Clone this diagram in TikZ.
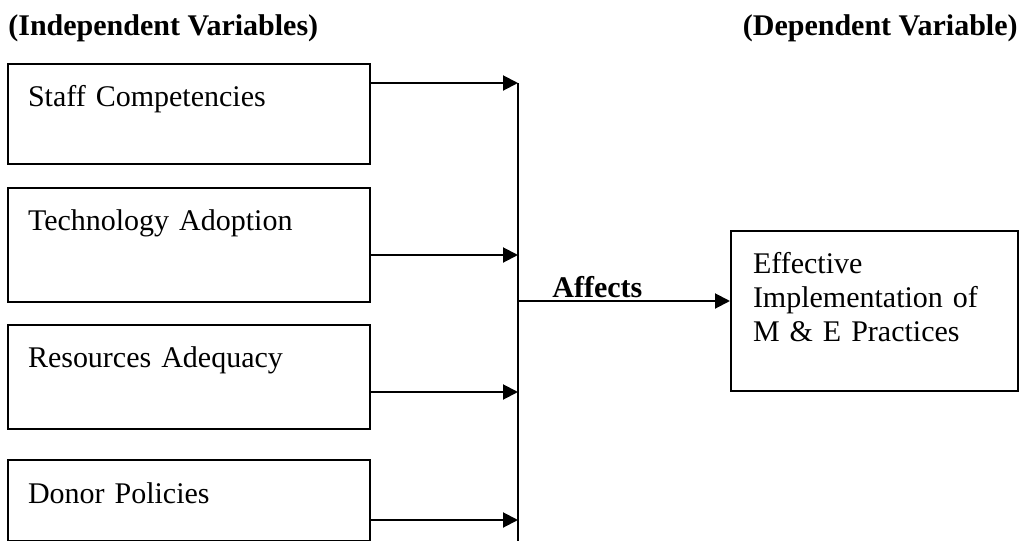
\documentclass[tikz,border=0pt]{standalone}
\usepackage{fontspec}
\setmainfont{Liberation Serif}
\usetikzlibrary{arrows.meta}
\begin{document}
\begin{tikzpicture}[x=0.5pt, y=-0.5pt, font=\fontsize{15}{17}\selectfont,
  varbox/.style={draw, line width=1pt, anchor=north west, inner xsep=10pt, inner ysep=0pt,
    text width=161pt, align=left, text height=21pt},
  heading/.style={font=\fontsize{15}{17}\selectfont\bfseries, inner sep=0pt},
  link/.style={line width=1pt},
  flow/.style={line width=1pt, -{Triangle[length=7.5pt, width=7.5pt]}}]
\useasboundingbox (0,0) rectangle (1025,541);
% headings
\node[heading, anchor=base west] (indep) at (8,35) {(Independent Variables)};
\node[heading, anchor=base east] (dep) at (1018,35) {(Dependent Variable)};
% independent variables
\node[varbox, text depth=29pt] (staff) at (7,63) {Staff Competencies};
\node[varbox, text depth=36pt] (tech) at (7,187) {Technology Adoption};
\node[varbox, text depth=31pt] (res) at (7,324) {Resources Adequacy};
\node[varbox, text depth=19pt, text height=21.5pt] (donor) at (7,459) {Donor Policies};
% dependent variable
\node[draw, line width=1pt, anchor=north west, inner xsep=11pt, inner ysep=0pt, text width=121.5pt,
  align=left, text height=21pt, text depth=59pt] (effect) at (730,230)
  {Effective\\Implementation of\\M \& E Practices};
% collector line
\coordinate (b1) at (518,83);
\coordinate (b2) at (518,255);
\coordinate (b3) at (518,392);
\coordinate (b4) at (518,520);
\coordinate (bmid) at (518,301);
\coordinate (bend) at (518,541);
\draw[link] (b1) -- (bend);
\draw[flow] (staff.east |- b1) -- (b1);
\draw[flow] (tech.east |- b2) -- (b2);
\draw[flow] (res.east |- b3) -- (b3);
\draw[flow] (donor.east |- b4) -- (b4);
\draw[flow] (bmid) -- (effect.west |- bmid);
\node[heading, anchor=base west] (affects) at (552,297) {Affects};
\end{tikzpicture}
\end{document}
